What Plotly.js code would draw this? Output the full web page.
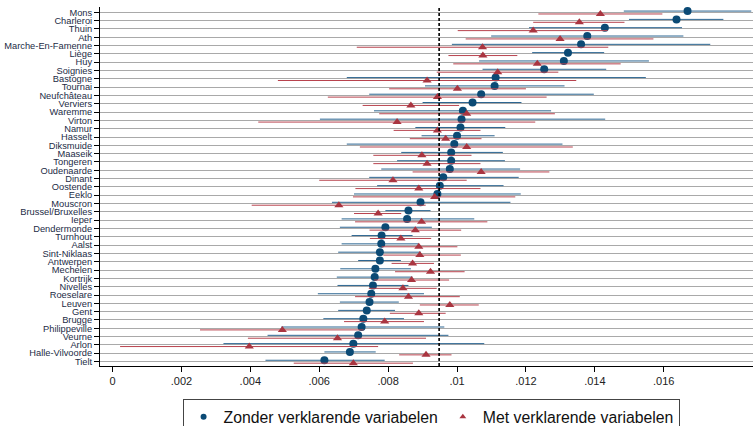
<!DOCTYPE html>
<html>
<head>
<meta charset="utf-8">
<script src="https://cdn.plot.ly/plotly-3.0.1.min.js"></script>
<style>html,body{margin:0;padding:0;background:#fff;}#chart{width:753px;height:426px;}</style>
</head>
<body>
<div id="chart"></div>
<script>
const regions = ["Mons","Charleroi","Thuin","Ath","Marche-En-Famenne","Liège","Huy","Soignies","Bastogne","Tournai","Neufchâteau","Verviers","Waremme","Virton","Namur","Hasselt","Diksmuide","Maaseik","Tongeren","Oudenaarde","Dinant","Oostende","Eeklo","Mouscron","Brussel/Bruxelles","Ieper","Dendermonde","Turnhout","Aalst","Sint-Niklaas","Antwerpen","Mechelen","Kortrijk","Nivelles","Roeselare","Leuven","Gent","Brugge","Philippeville","Veurne","Arlon","Halle-Vilvoorde","Tielt"];

// Zonder verklarende variabelen (estimate, lower, upper)
const zonderEst = [0.01669,0.01637,0.01429,0.01378,0.01360,0.01322,0.01310,0.01253,0.01112,0.01109,0.01070,0.01045,0.01017,0.01013,0.01010,0.01000,0.00992,0.00983,0.00983,0.00979,0.00960,0.00950,0.00943,0.00894,0.00859,0.00855,0.00792,0.00781,0.00780,0.00776,0.00776,0.00763,0.00761,0.00756,0.00751,0.00746,0.00738,0.00728,0.00723,0.00713,0.00699,0.00689,0.00615];
const zonderLo  = [0.01484,0.01499,0.01209,0.01099,0.00985,0.01218,0.01064,0.01074,0.00680,0.00907,0.00745,0.00900,0.00759,0.00602,0.00879,0.00897,0.00680,0.00838,0.00826,0.00780,0.00745,0.00768,0.00701,0.00637,0.00792,0.00665,0.00660,0.00694,0.00665,0.00655,0.00713,0.00661,0.00651,0.00653,0.00596,0.00660,0.00655,0.00612,0.00490,0.00450,0.00322,0.00615,0.00444];
const zonderHi  = [0.01854,0.01773,0.01653,0.01657,0.01735,0.01427,0.01557,0.01433,0.01548,0.01312,0.01397,0.01187,0.01273,0.01430,0.01140,0.01109,0.01306,0.01133,0.01139,0.01183,0.01179,0.01135,0.01185,0.01155,0.00923,0.01050,0.00927,0.00871,0.00889,0.00895,0.00837,0.00866,0.00871,0.00859,0.00904,0.00831,0.00820,0.00846,0.00963,0.00975,0.01079,0.00764,0.00790];

// Met verklarende variabelen (estimate, lower, upper)
const metEst = [0.01416,0.01355,0.01221,0.01299,0.01074,0.01075,0.01233,0.01118,0.00913,0.01001,0.00943,0.00866,0.01028,0.00826,0.00943,0.00967,0.01028,0.00898,0.00913,0.01070,0.00814,0.00889,0.00935,0.00657,0.00771,0.00897,0.00879,0.00837,0.00889,0.00892,0.00871,0.00923,0.00868,0.00843,0.00859,0.00979,0.00889,0.00790,0.00493,0.00653,0.00397,0.00910,0.00699];
const metLo  = [0.01236,0.01221,0.01002,0.01025,0.00709,0.00975,0.00989,0.00941,0.00480,0.00803,0.00625,0.00726,0.00774,0.00423,0.00816,0.00863,0.00718,0.00757,0.00757,0.00871,0.00600,0.00705,0.00698,0.00404,0.00701,0.00704,0.00746,0.00747,0.00781,0.00786,0.00810,0.00820,0.00759,0.00744,0.00704,0.00892,0.00805,0.00672,0.00254,0.00393,0.00022,0.00832,0.00526];
const metHi  = [0.01596,0.01486,0.01437,0.01570,0.01439,0.01175,0.01475,0.01294,0.01346,0.01200,0.01260,0.01006,0.01284,0.01227,0.01068,0.01071,0.01336,0.01042,0.01068,0.01268,0.01028,0.01068,0.01169,0.00909,0.00838,0.01088,0.01012,0.00925,0.01001,0.01011,0.00933,0.01022,0.00977,0.00941,0.01008,0.01063,0.00967,0.00904,0.00729,0.00910,0.00771,0.00984,0.00872];

const overallMean = 0.00948;
const xTickVals = [0,0.002,0.004,0.006,0.008,0.010,0.012,0.014,0.016];
const xTickText = ["0",".002",".004",".006",".008",".01",".012",".014",".016"];

const rows = regions.map((_, i) => i);
const FONT = "Liberation Sans, Arial, sans-serif";

const blueMarker = "#0b4a75", blueLine = "#2a6490";
const redMarker = "#a93540", redLine = "#b8434e";

const traces = [
  {
    type: "scatter", mode: "markers", showlegend: false,
    x: zonderEst, y: rows.map(i => i - 0.15),
    marker: {symbol: "circle", size: 8, color: blueMarker},
    error_x: {type: "data", symmetric: false,
      array: zonderHi.map((h, i) => h - zonderEst[i]),
      arrayminus: zonderLo.map((l, i) => zonderEst[i] - l),
      thickness: 1, width: 0, color: blueLine},
    hoverinfo: "skip"
  },
  {
    type: "scatter", mode: "markers", showlegend: false,
    x: metEst, y: rows.map(i => i + 0.2),
    marker: {symbol: "triangle-up", size: 8, color: redMarker},
    error_x: {type: "data", symmetric: false,
      array: metHi.map((h, i) => h - metEst[i]),
      arrayminus: metLo.map((l, i) => metEst[i] - l),
      thickness: 1, width: 0, color: redLine},
    hoverinfo: "skip"
  },
  {type: "scatter", mode: "markers", name: "Zonder verklarende variabelen",
   x: [null], y: [null], marker: {symbol: "circle", size: 6, color: blueMarker}},
  {type: "scatter", mode: "markers", name: "Met verklarende variabelen",
   x: [null], y: [null], marker: {symbol: "triangle-up", size: 6, color: redMarker}}
];

const layout = {
  width: 753, height: 426,
  margin: {l: 100, r: 0, t: 7, b: 60, autoexpand: false},
  paper_bgcolor: "#ffffff", plot_bgcolor: "#ffffff",
  font: {family: FONT, color: "#111"},
  xaxis: {
    range: [-0.000363, 0.01859], tickvals: xTickVals, ticktext: xTickText,
    ticks: "outside", ticklen: 5, tickcolor: "#000", tickwidth: 1,
    showline: true, linecolor: "#000", linewidth: 1,
    showgrid: false, zeroline: false,
    tickfont: {family: FONT, size: 11, color: "#222"}
  },
  yaxis: {
    range: [42.54, -0.64], tickvals: rows, ticktext: regions,
    ticks: "outside", ticklen: 5, tickcolor: "#000", tickwidth: 1,
    showline: true, linecolor: "#000", linewidth: 1,
    showgrid: true, gridcolor: "#a9a9a9", gridwidth: 1, zeroline: false,
    tickfont: {family: FONT, size: 9.3, color: "#1c2b45"}
  },
  shapes: [{
    type: "line", xref: "x", yref: "paper",
    x0: overallMean, x1: overallMean, y0: 0, y1: 1,
    line: {color: "#000", width: 1.6, dash: "3px,2px"}
  }],
  legend: {
    orientation: "h", x: 0.507, xanchor: "center", y: -0.092, yanchor: "top",
    bordercolor: "#444", borderwidth: 1, bgcolor: "#fff", itemwidth: 30,
    font: {family: FONT, size: 15.8, color: "#111"}
  },
  showlegend: true
};

Plotly.newPlot("chart", traces, layout, {displayModeBar: false, staticPlot: true});
</script>
</body>
</html>
